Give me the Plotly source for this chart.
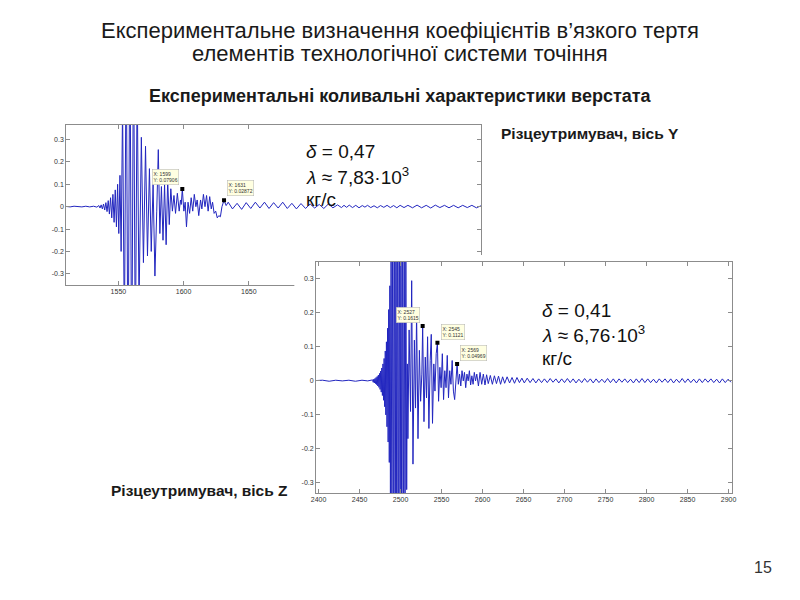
import plotly.graph_objects as go

# ---------------- data: Y-axis tool holder (top chart) ----------------
y_quiet = [(1510, 0.001), (1513, -0.001), (1516, 0.002), (1519, 0.0), (1522, -0.001),
           (1525, 0.002), (1528, -0.001), (1531, 0.002), (1533.5, -0.002)]
y_rise = [(1535.0, 0.005), (1535.9, -0.006), (1536.8, 0.008), (1537.7, -0.01), (1538.6, 0.012),
          (1539.5, -0.015), (1540.4, 0.018), (1541.3, -0.022), (1542.2, 0.027), (1543.1, -0.033),
          (1544.0, 0.04), (1544.9, -0.05), (1545.8, 0.055), (1546.7, -0.07), (1547.6, 0.075),
          (1548.5, -0.09), (1549.4, 0.1), (1550.3, -0.12), (1551.2, 0.14), (1552.1, -0.2)]
y_burst = [(1553.2, 0.45), (1554.6, -0.6), (1556.0, 0.8), (1557.4, -0.9), (1558.8, 0.9),
           (1560.2, -0.85), (1561.6, 0.8), (1563.0, -0.7), (1564.4, 0.6), (1565.8, -0.45)]
y_decay = [(1567.6, 0.31), (1569.2, -0.25), (1570.8, 0.27), (1572.3, -0.22), (1573.8, 0.17),
           (1575.2, -0.2), (1576.6, 0.1), (1578.0, -0.31), (1579.4, -0.02), (1580.6, 0.255),
           (1581.8, -0.12), (1583.0, 0.09), (1584.2, -0.15), (1585.4, 0.1), (1586.6, -0.17),
           (1587.8, 0.12), (1589.0, -0.08), (1590.2, 0.08), (1591.4, -0.02), (1592.6, 0.05),
           (1593.8, -0.03), (1595.2, 0.06), (1596.6, -0.02), (1597.6, 0.03), (1598.2, 0.01),
           (1599.0, 0.07906), (1600.2, -0.02), (1601.2, 0.02), (1602.2, -0.09), (1603.4, 0.02),
           (1604.6, -0.03), (1605.8, 0.04), (1607.0, -0.02), (1608.2, 0.055), (1609.4, 0.0),
           (1610.4, 0.03), (1611.6, -0.04), (1613.0, 0.03), (1614.0, -0.01), (1615.2, 0.055),
           (1616.4, 0.0), (1617.6, 0.05), (1618.8, -0.02), (1620.0, 0.045), (1621.2, -0.01),
           (1622.2, 0.02), (1623.4, -0.03), (1624.6, -0.02), (1625.8, -0.05), (1627.0, -0.04),
           (1628.2, -0.045), (1629.4, 0.0), (1631.0, 0.02872), (1632.6, 0.005), (1634.2, 0.02)]
y_tail = [(1637.5, -0.01), (1641, 0.015), (1644.5, -0.012), (1648, 0.018), (1651.5, -0.008),
          (1655, 0.02), (1658.5, -0.006), (1662, 0.02), (1665.5, -0.008), (1669, 0.018),
          (1672.5, -0.006), (1676, 0.02), (1679.5, -0.008), (1683, 0.015), (1686.5, -0.01),
          (1690, 0.014), (1693.5, -0.008), (1697, 0.012), (1700.5, -0.006), (1704, 0.01),
          (1707.5, -0.008), (1711, 0.012), (1714.5, -0.005), (1718, 0.008), (1721, -0.004),
          (1723, 0.006), (1725, -0.003), (1727, 0.007), (1729.5, -0.004), (1732, 0.006),
          (1734.5, -0.005), (1737, 0.005), (1739, -0.002), (1741, 0.006), (1743.5, -0.004),
          (1746, 0.004), (1748.5, -0.005), (1751, 0.005), (1753.5, -0.003), (1756, 0.006),
          (1758.5, -0.004), (1761, 0.005), (1763.5, -0.005), (1766, 0.006), (1769, -0.004),
          (1772, 0.006), (1775.5, -0.005), (1779, 0.007), (1782.5, -0.005), (1786, 0.006),
          (1789.5, -0.006), (1793, 0.007), (1796.5, -0.004), (1800, 0.006), (1803.5, -0.005),
          (1807, 0.006), (1810.5, -0.005), (1814, 0.006), (1817.5, -0.004), (1821, 0.006),
          (1824.5, -0.005), (1828, 0.004)]
tips_y = [(1599, 0.07906), (1631, 0.02872)]

# ---------------- data: Z-axis tool holder (bottom chart) ----------------
z_quiet = [(2397, 0.001), (2405, 0.002), (2413, -0.001), (2421, 0.002), (2429, 0.0),
           (2437, 0.002), (2445, -0.001), (2453, 0.002), (2460, 0.0), (2465, 0.002)]
z_rise = [(2466.0, 0.003), (2466.7, -0.004), (2467.4, 0.005), (2468.1, -0.006), (2468.8, 0.007),
          (2469.5, -0.008), (2470.2, 0.01), (2470.9, -0.011), (2471.6, 0.013), (2472.3, -0.015),
          (2473.0, 0.017), (2473.7, -0.019), (2474.4, 0.022), (2475.1, -0.025), (2475.8, 0.029),
          (2476.5, -0.033), (2477.2, 0.038), (2477.9, -0.043), (2478.6, 0.05), (2479.3, -0.057),
          (2480.0, 0.066), (2480.7, -0.076), (2481.4, 0.088), (2482.1, -0.1), (2482.8, 0.115),
          (2483.5, -0.135), (2484.2, 0.155), (2484.9, -0.18), (2485.6, 0.21), (2486.3, -0.24),
          (2487.0, 0.28), (2487.7, -0.33)]
z_burst = [(2488.5, 0.4), (2489.5, -0.5), (2490.5, 0.6), (2491.5, -0.7), (2492.5, 0.8),
           (2493.5, -0.85), (2494.5, 0.9), (2495.5, -0.9), (2496.5, 0.9), (2497.5, -0.85),
           (2498.5, 0.85), (2499.5, -0.8), (2500.5, 0.75), (2501.5, -0.7), (2502.5, 0.65),
           (2503.5, -0.6), (2504.5, 0.5), (2505.5, -0.45), (2506.5, 0.4)]
z_decay = [(2507.5, -0.32), (2508.3, 0.05), (2509.0, -0.17), (2510.5, 0.15), (2512.2, -0.09),
           (2513.6, 0.295), (2515.2, -0.245), (2516.9, 0.12), (2518.3, -0.08), (2519.6, 0.2),
           (2521.3, -0.17), (2523.0, 0.09), (2524.5, -0.06), (2526.0, 0.02), (2527.0, 0.1615),
           (2528.6, -0.12), (2530.2, 0.07), (2531.7, -0.05), (2533.0, 0.13), (2534.6, -0.14),
           (2536.2, 0.06), (2537.5, 0.137), (2539.0, -0.125), (2540.6, 0.05), (2542.0, -0.03),
           (2543.5, 0.08), (2545.0, 0.1121), (2546.4, -0.06), (2548.0, 0.04), (2549.5, -0.02),
           (2551.0, 0.08), (2552.5, -0.055), (2554.0, 0.03), (2555.5, -0.02), (2557.0, 0.075),
           (2558.5, -0.05), (2560.0, 0.03), (2561.5, -0.01), (2563.0, 0.06), (2564.5, -0.03),
           (2566.0, -0.055), (2567.5, 0.02), (2569.0, 0.04969)]
z_ring = [(2570.5, -0.01), (2572.0, 0.02), (2573.5, -0.015), (2575.0, 0.03), (2576.5, 0.0),
          (2578.0, 0.025), (2579.5, -0.02), (2581.0, 0.02), (2582.5, 0.0), (2584.0, 0.03),
          (2585.5, -0.012), (2587.0, 0.015), (2588.5, -0.01), (2590.0, 0.025), (2591.5, 0.0),
          (2593.0, 0.02), (2595.0, -0.015), (2597.0, 0.025), (2599.0, -0.01), (2601.0, 0.02),
          (2603.0, -0.012), (2605.0, 0.018), (2607.0, -0.008), (2609.5, 0.016), (2612.0, -0.01),
          (2614.5, 0.015), (2617.0, -0.008), (2619.5, 0.014), (2622.0, -0.01), (2624.5, 0.012),
          (2627.0, -0.007), (2630.0, 0.012), (2633.0, -0.006), (2636.0, 0.01), (2639.0, -0.007),
          (2642.0, 0.01), (2645.0, -0.005), (2648.0, 0.008), (2651.0, -0.006), (2654.5, 0.008),
          (2658.0, -0.005), (2661.5, 0.007), (2665.0, -0.006), (2668.5, 0.006), (2672.0, -0.005)]
z_tail = [(2675.5, 0.006), (2679, -0.005), (2682.5, 0.007), (2686, -0.004), (2689.5, 0.006),
          (2693, -0.006), (2696.5, 0.006), (2700, -0.005), (2703.5, 0.007), (2707, -0.005),
          (2710.5, 0.006), (2714, -0.006), (2717.5, 0.005), (2721, -0.005), (2724.5, 0.007),
          (2728, -0.004), (2731.5, 0.006), (2735, -0.006), (2738.5, 0.006), (2742, -0.005),
          (2745.5, 0.005), (2749, -0.005), (2752.5, 0.007), (2756, -0.005), (2759.5, 0.006),
          (2763, -0.006), (2766.5, 0.006), (2770, -0.004), (2773.5, 0.006), (2777, -0.005),
          (2780.5, 0.005), (2784, -0.006), (2787.5, 0.006), (2791, -0.005), (2794.5, 0.007),
          (2798, -0.005), (2801.5, 0.006), (2805, -0.005), (2808.5, 0.005), (2812, -0.006),
          (2815.5, 0.006), (2819, -0.004), (2822.5, 0.006), (2826, -0.005), (2829.5, 0.006),
          (2833, -0.006), (2836.5, 0.005), (2840, -0.005), (2843.5, 0.007), (2847, -0.005),
          (2850.5, 0.006), (2854, -0.005), (2857.5, 0.005), (2861, -0.006), (2864.5, 0.006),
          (2868, -0.005), (2871.5, 0.006), (2875, -0.004), (2878.5, 0.006), (2882, -0.005),
          (2885.5, 0.005), (2889, -0.006), (2892.5, 0.006), (2896, -0.005), (2899.5, 0.005),
          (2903, -0.004)]
tips_z = [(2527, 0.1615), (2545, 0.1121), (2569, 0.04969)]

y_ticks = [-0.3, -0.2, -0.1, 0, 0.1, 0.2, 0.3]
y_tick_text = ["-0.3", "-0.2", "-0.1", "0", "0.1", "0.2", "0.3"]
top_x_ticks = [1550, 1600, 1650]
bot_x_ticks = [2400, 2450, 2500, 2550, 2600, 2650, 2700, 2750, 2800, 2850, 2900]

title_lines = ["Експериментальне визначення коефіцієнтів в’язкого тертя",
               "елементів технологічної системи точіння"]
subtitle = "Експериментальні коливальні характеристики верстата"
label_y = "Різцеутримувач, вісь Y"
label_z = "Різцеутримувач, вісь Z"
block_y = ["<i>δ</i> = 0,47", "<i>λ</i> ≈ 7,83·10<sup>3</sup>", "кг/с"]
block_z = ["<i>δ</i> = 0,41", "<i>λ</i> ≈ 6,76·10<sup>3</sup>", "кг/с"]
page_no = "15"

# ---------------- figure ----------------
W, H = 800, 600
FONT = "Liberation Sans, Arial, sans-serif"
LINE = "#2226bf"
AXC = "#8c8c8c"


def px_x(p):
    return p / W


def px_y(p):
    return 1 - p / H


def split(seq):
    return [p[0] for p in seq], [p[1] for p in seq]


fig = go.Figure()

tx, tv = split(y_quiet + y_rise + y_burst + y_decay + y_tail)
fig.add_trace(go.Scatter(x=tx, y=tv, mode="lines", line=dict(color=LINE, width=1),
                         xaxis="x", yaxis="y", hoverinfo="skip", showlegend=False))
mx, my = split(tips_y)
fig.add_trace(go.Scatter(x=mx, y=my, mode="markers",
                         marker=dict(symbol="square", size=4, color="black"),
                         xaxis="x", yaxis="y", hoverinfo="skip", showlegend=False))

# white panel of the second (pasted) chart
fig.add_trace(go.Scatter(x=[None], y=[None], xaxis="x2", yaxis="y2",
                         hoverinfo="skip", showlegend=False))

bx, bv = split(z_quiet + z_rise + z_burst + z_decay + z_ring + z_tail)
fig.add_trace(go.Scatter(x=bx, y=bv, mode="lines", line=dict(color=LINE, width=1),
                         xaxis="x3", yaxis="y3", hoverinfo="skip", showlegend=False))
nx, ny = split(tips_z)
fig.add_trace(go.Scatter(x=nx, y=ny, mode="markers",
                         marker=dict(symbol="square", size=4, color="black"),
                         xaxis="x3", yaxis="y3", hoverinfo="skip", showlegend=False))

ax_style = dict(showline=True, linecolor=AXC, linewidth=1, mirror="ticks",
                ticks="inside", ticklen=4, tickcolor=AXC, showgrid=False,
                zeroline=False, fixedrange=True,
                tickfont=dict(family=FONT, size=7, color="#333333"))

fig.update_layout(
    width=W, height=H, margin=dict(l=0, r=0, t=0, b=0),
    paper_bgcolor="white", plot_bgcolor="white", showlegend=False,
    hovermode=False,
    xaxis=dict(domain=[px_x(62), px_x(482)], range=[1510, 1828], anchor="y",
               tickvals=top_x_ticks, **ax_style),
    yaxis=dict(domain=[px_y(285), px_y(125)], range=[-0.35, 0.365], anchor="x",
               tickvals=y_ticks, ticktext=y_tick_text, **ax_style),
    xaxis2=dict(domain=[px_x(293), px_x(745)], range=[0, 1], anchor="y2", visible=False,
                fixedrange=True),
    yaxis2=dict(domain=[px_y(522), px_y(255)], range=[0, 1], anchor="x2", visible=False,
                fixedrange=True),
    xaxis3=dict(domain=[px_x(315), px_x(736)], range=[2397, 2904], anchor="y3",
                tickvals=bot_x_ticks, **ax_style),
    yaxis3=dict(domain=[px_y(493), px_y(262)], range=[-0.33, 0.35], anchor="x3",
                tickvals=y_ticks, ticktext=y_tick_text, **ax_style),
)

ann = []
# titles
ann.append(dict(text=title_lines[0], x=0.5, y=px_y(30), xref="paper", yref="paper",
                showarrow=False, xanchor="center", yanchor="middle",
                font=dict(family=FONT, size=22, color="#1a1a1a")))
ann.append(dict(text=title_lines[1], x=0.5, y=px_y(53), xref="paper", yref="paper",
                showarrow=False, xanchor="center", yanchor="middle",
                font=dict(family=FONT, size=22, color="#1a1a1a")))
ann.append(dict(text="<b>" + subtitle + "</b>", x=0.5, y=px_y(96), xref="paper", yref="paper",
                showarrow=False, xanchor="center", yanchor="middle",
                font=dict(family=FONT, size=18, color="#1a1a1a")))
ann.append(dict(text="<b>" + label_y + "</b>", x=px_x(500), y=px_y(133), xref="paper",
                yref="paper", showarrow=False, xanchor="left", yanchor="middle",
                font=dict(family=FONT, size=15.5, color="#1a1a1a")))
ann.append(dict(text="<b>" + label_z + "</b>", x=px_x(105), y=px_y(490), xref="paper",
                yref="paper", showarrow=False, xanchor="left", yanchor="middle",
                font=dict(family=FONT, size=15.5, color="#1a1a1a")))
ann.append(dict(text=page_no, x=px_x(779), y=px_y(567), xref="paper", yref="paper",
                showarrow=False, xanchor="right", yanchor="middle",
                font=dict(family=FONT, size=16, color="#333333")))

# coefficient blocks
for txt, yy in zip(block_y, [151, 176, 200]):
    ann.append(dict(text=txt, x=px_x(303), y=px_y(yy), xref="paper", yref="paper",
                    showarrow=False, xanchor="left", yanchor="middle",
                    font=dict(family=FONT, size=19, color="#111111")))
for txt, yy in zip(block_z, [310, 334, 358]):
    ann.append(dict(text=txt, x=px_x(542), y=px_y(yy), xref="paper", yref="paper",
                    showarrow=False, xanchor="left", yanchor="middle",
                    font=dict(family=FONT, size=19, color="#111111")))

# data tips
tip_font = dict(family=FONT, size=5, color="#333333")
tip_pos_y = [("right", -3, 4), ("left", 3, 4)]
for (tx_, ty_), (anc, xs, ys) in zip(tips_y, tip_pos_y):
    ann.append(dict(text=f"X: {tx_}<br>Y: {ty_}", x=tx_, y=ty_, xref="x", yref="y",
                    showarrow=False, xanchor=anc, yanchor="bottom", xshift=xs, yshift=ys,
                    align="left", bgcolor="#ffffe1", bordercolor="#b0b0b0",
                    borderwidth=0.5, borderpad=1, font=tip_font))
tip_pos_z = [("right", -3, 3), ("left", 4, 3), ("left", 3, 3)]
for (tx_, ty_), (anc, xs, ys) in zip(tips_z, tip_pos_z):
    ann.append(dict(text=f"X: {tx_}<br>Y: {ty_}", x=tx_, y=ty_, xref="x3", yref="y3",
                    showarrow=False, xanchor=anc, yanchor="bottom", xshift=xs, yshift=ys,
                    align="left", bgcolor="#ffffe1", bordercolor="#b0b0b0",
                    borderwidth=0.5, borderpad=1, font=tip_font))

fig.update_layout(annotations=ann)
fig.write_html("out.html", config={"displayModeBar": False, "staticPlot": True},
               post_script="document.body.style.margin='0px';")
